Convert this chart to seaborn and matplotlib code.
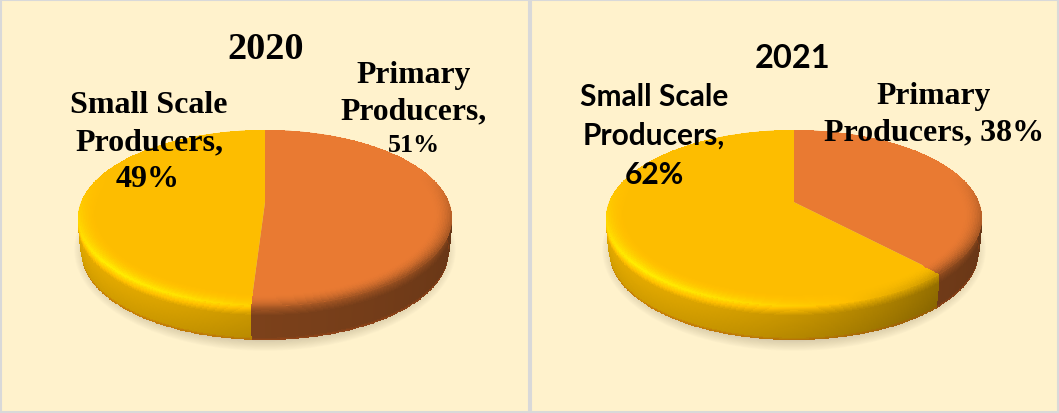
import numpy as np
import matplotlib
matplotlib.use("Agg")
import matplotlib.pyplot as plt
from matplotlib.patches import Ellipse
from matplotlib.transforms import Transform
import seaborn as sns

WIDTH, HEIGHT = 1059, 414

YEARS = ["2020", "2021"]
CATEGORIES = ["Primary Producers", "Small Scale Producers"]
SHARES_2020 = [51, 49]
SHARES_2021 = [38, 62]
SLICE_COLORS = ["#E97A32", "#FDBD00"]
PANEL_COLOR = "#FFF2CC"
BORDER_COLOR = "#D9D9D9"

SERIF = "Liberation Serif"
SANS = "Lato"
TILT = 0.18          # how far the pie's apex sits behind the ellipse centre
DEPTH = 34           # rim height in pixels

sns.set_theme(style="white")
palette = sns.color_palette(SLICE_COLORS)


class TiltedDisc(Transform):
    """Projective map that keeps the unit circle but pushes its centre back."""
    input_dims = output_dims = 2

    def transform_non_affine(self, values):
        v = np.asarray(values, dtype=float)
        d = 1 + TILT * v[:, 1]
        return np.column_stack([v[:, 0] * np.sqrt(1 - TILT ** 2) / d,
                                (v[:, 1] + TILT) / d])


tilt = TiltedDisc()


def lighting(theta):
    return 0.5 + 0.5 * np.cos(np.radians(theta - 215))


def in_first_slice(theta, wedges):
    first = wedges[0]
    return (theta - first.theta1) % 360 <= (first.theta2 - first.theta1) % 360


def edge_shades(theta):
    """Brightness of the lip where the top face meets the rim, per slice."""
    light = lighting(theta)
    return 0.50 + 0.36 * light, 0.45 + 0.82 * light


def draw_pie(ax, shares, box, centre, radii):
    x0, x1, y0, y1 = box
    cx, cy = centre
    rx, ry = radii
    wedges, _ = ax.pie(shares, startangle=90, counterclock=False, colors=palette,
                       wedgeprops=dict(linewidth=0))
    ax.set_aspect("auto")
    ax.set_xlim((x0 - cx) / rx, (x1 - cx) / rx)
    ax.set_ylim((cy - y1) / ry, (cy - y0) / ry)
    ax.set_frame_on(True)
    ax.set_facecolor(PANEL_COLOR)
    for spine in ax.spines.values():
        spine.set_color(BORDER_COLOR)
        spine.set_linewidth(1.5)
    for w in wedges:
        w.set_transform(tilt + ax.transData)
        w.set_zorder(3)

    base = np.array([palette[0], palette[1]])
    depth = DEPTH / ry

    # soft shadow on the panel
    for k in np.linspace(1, 0, 16):
        ax.add_patch(Ellipse((0.0, -0.36), 2 * (0.94 + 0.08 * k),
                             2 * (1.00 + 0.15 * k), facecolor="#8F8470", alpha=0.028,
                             linewidth=0, zorder=1))

    # rim of the disc, shaded around the circumference and down its height
    th = np.linspace(170, 370, 401)
    t = np.linspace(0, 1, 31)
    T, S = np.meshgrid(th, t, indexing="ij")
    xy = tilt.transform_non_affine(np.column_stack([np.cos(np.radians(T.ravel())),
                                                    np.sin(np.radians(T.ravel()))]))
    X = xy[:, 0].reshape(T.shape) * (1 - 0.018 * S ** 2)
    Y = xy[:, 1].reshape(T.shape) - depth * S
    tm = 0.5 * (th[:-1] + th[1:])
    sm = 0.5 * (t[:-1] + t[1:])
    TM, SM = np.meshgrid(tm, sm, indexing="ij")
    is_first = in_first_slice(TM, wedges)
    light = lighting(TM)
    body = np.where(is_first, 0.42 + 0.14 * light, (0.35 + 0.55 * light) * (1.03 - 0.12 * SM))
    edge_first, edge_second = edge_shades(TM)
    edge = np.where(is_first, edge_first, edge_second)
    blend = np.clip(SM / 0.28, 0, 1) ** 0.8
    shade = edge + (body - edge) * blend
    rgb = np.where(is_first[..., None], base[0], base[1]) * shade[..., None]
    # thin warm line along the bottom edge
    warm = np.clip((SM - 0.93) / 0.07, 0, 1)[..., None] * 0.45
    rgb = np.clip(rgb, 0, 1) * (1 - warm) + np.array([0.72, 0.30, 0.08]) * warm
    ax.pcolormesh(X, Y, rgb, shading="flat", antialiased=False, zorder=2)

    # bevel along the edge of the top face
    th = np.linspace(0, 360, 721)
    r = np.linspace(0.90, 1.0, 13)
    T, R = np.meshgrid(th, r, indexing="ij")
    xy = tilt.transform_non_affine(np.column_stack([(R * np.cos(np.radians(T))).ravel(),
                                                    (R * np.sin(np.radians(T))).ravel()]))
    X = xy[:, 0].reshape(T.shape)
    Y = xy[:, 1].reshape(T.shape)
    tm = 0.5 * (th[:-1] + th[1:])
    rm = 0.5 * (r[:-1] + r[1:])
    TM, RM = np.meshgrid(tm, rm, indexing="ij")
    is_first = in_first_slice(TM, wedges)
    front = np.clip(0.35 - np.sin(np.radians(TM)), 0, 1)
    edge_first, edge_second = edge_shades(TM)
    edge = np.where(is_first, edge_first, edge_second)
    s = ((RM - 0.90) / 0.10) ** 2
    shade = 1 + (edge - 1) * front * s
    rgb = np.where(is_first[..., None], base[0], base[1]) * shade[..., None]
    ax.pcolormesh(X, Y, np.clip(rgb, 0, 1), shading="flat", antialiased=False, zorder=4)


def put_text(fig, x, y, text, family, size):
    fig.text(x / WIDTH, 1 - y / HEIGHT, text, family=family, fontsize=size, fontweight="bold",
             color="black", ha="center", va="baseline", zorder=10)


fig = plt.figure(figsize=(WIDTH / 100, HEIGHT / 100), dpi=100, facecolor="white")

boxes = [(1, 528.5, 1, 412.5), (531, 1058, 1, 412.5)]
for box, shares, centre, radii in zip(boxes, [SHARES_2020, SHARES_2021],
                                      [(265, 219), (794, 219)], [(187, 88), (188, 88)]):
    x0, x1, y0, y1 = box
    ax = fig.add_axes([x0 / WIDTH, 1 - y1 / HEIGHT, (x1 - x0) / WIDTH, (y1 - y0) / HEIGHT])
    draw_pie(ax, shares, box, centre, radii)

primary_word, producers_word = CATEGORIES[0].split()
small_scale = " ".join(CATEGORIES[1].split()[:2])

put_text(fig, 266, 59, YEARS[0], SERIF, 27.5)
put_text(fig, 414, 83, primary_word, SERIF, 22.8)
put_text(fig, 414, 119, f"{producers_word},", SERIF, 22.8)
put_text(fig, 414, 152, f"{SHARES_2020[0]}%", SERIF, 18.7)
put_text(fig, 149, 113, small_scale, SERIF, 23)
put_text(fig, 149, 150, f"{producers_word},", SERIF, 23)
put_text(fig, 148, 187, f"{SHARES_2020[1]}%", SERIF, 23)

put_text(fig, 793, 68.5, YEARS[1], SANS, 23.5)
put_text(fig, 654, 106.5, small_scale, SANS, 21.5)
put_text(fig, 654, 145, f"{producers_word},", SANS, 21.5)
put_text(fig, 654, 184, f"{SHARES_2021[1]}%", SANS, 21.5)
put_text(fig, 934, 104, primary_word, SERIF, 22.8)
put_text(fig, 934, 140, f"{producers_word}, {SHARES_2021[0]}%", SERIF, 23)

fig.savefig("out.png", dpi=100)
